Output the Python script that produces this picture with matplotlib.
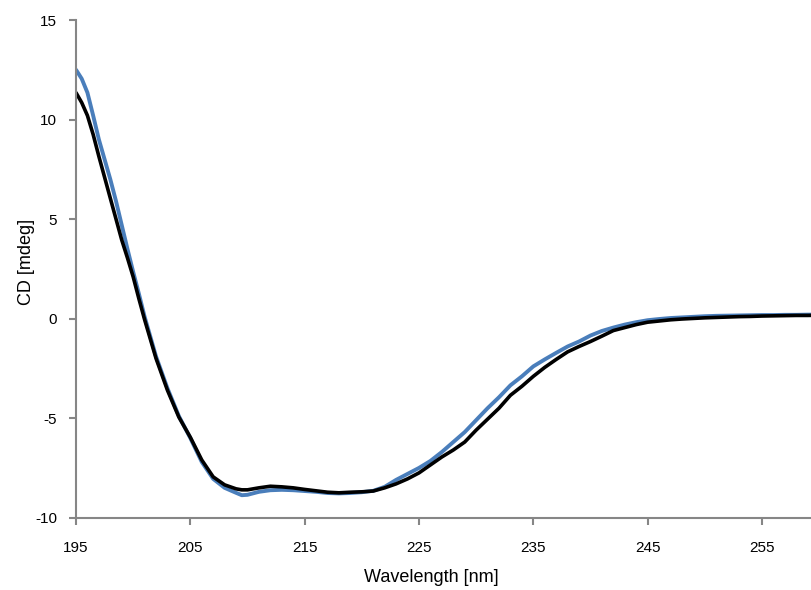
import matplotlib
matplotlib.use("Agg")
import matplotlib.pyplot as plt

# wavelength grid (nm)
wavelength = [195, 195.5, 196, 196.5, 197, 197.5, 198, 198.5, 199, 199.5,
              200, 200.5, 201, 202, 203, 204,
              205, 206, 207, 208, 209, 209.5, 210, 211, 212, 213, 214,
              215, 216, 217, 218, 219, 220, 221, 222, 223, 224,
              225, 226, 227, 228, 229, 230, 231, 232, 233, 234,
              235, 236, 237, 238, 239, 240, 241, 242, 243, 244,
              245, 246, 247, 248, 249, 250, 251, 252, 253, 254,
              255, 256, 257, 258, 259, 260]

# blue trace (mdeg)
cd_blue = [12.5, 12.05, 11.35, 10.2, 9.0, 8.0, 7.0, 5.9, 4.7, 3.5,
           2.35, 1.25, 0.1, -1.9, -3.5, -4.9,
           -6.0, -7.2, -8.05, -8.5, -8.75, -8.87, -8.85, -8.7, -8.62, -8.6, -8.62,
           -8.66, -8.7, -8.76, -8.78, -8.76, -8.72, -8.65, -8.45, -8.1, -7.8,
           -7.5, -7.15, -6.7, -6.2, -5.7, -5.1, -4.5, -3.95, -3.35, -2.9,
           -2.4, -2.05, -1.72, -1.4, -1.15, -0.85, -0.62, -0.45, -0.3, -0.18,
           -0.08, -0.02, 0.03, 0.06, 0.09, 0.12, 0.14, 0.15, 0.16, 0.17,
           0.18, 0.18, 0.19, 0.19, 0.2, 0.2]

# black trace (mdeg)
cd_black = [11.35, 10.85, 10.2, 9.25, 8.15, 7.1, 6.05, 5.0, 3.95, 3.05,
            2.1, 1.0, -0.05, -2.0, -3.6, -4.95,
            -5.96, -7.1, -7.95, -8.35, -8.55, -8.6, -8.6, -8.5, -8.42, -8.45, -8.5,
            -8.58, -8.65, -8.72, -8.75, -8.72, -8.7, -8.66, -8.5, -8.3, -8.05,
            -7.75, -7.35, -6.95, -6.6, -6.2, -5.6, -5.05, -4.5, -3.85, -3.4,
            -2.9, -2.45, -2.05, -1.67, -1.4, -1.15, -0.88, -0.6, -0.45, -0.3,
            -0.18, -0.12, -0.06, -0.02, 0.01, 0.04, 0.06, 0.08, 0.1, 0.11,
            0.13, 0.14, 0.15, 0.16, 0.16, 0.17]

xticks = [195, 205, 215, 225, 235, 245, 255]
yticks = [-10, -5, 0, 5, 10, 15]

plt.rcParams['font.family'] = ['Liberation Sans', 'DejaVu Sans']
plt.rcParams['axes.unicode_minus'] = False

fig = plt.figure(figsize=(8.11, 5.90), dpi=100)
ax = fig.add_axes([76 / 811, 72.3 / 590, 735 / 811, 497.7 / 590])

ax.plot(wavelength, cd_blue, color='#4a7ebb', lw=2.8, solid_capstyle='round', solid_joinstyle='round')
ax.plot(wavelength, cd_black, color='black', lw=2.6, solid_capstyle='round', solid_joinstyle='round')

ax.set_xlim(195, 259.29)
ax.set_ylim(-10, 15)
ax.set_xticks(xticks)
ax.set_yticks(yticks)

for s in ['top', 'right']:
    ax.spines[s].set_visible(False)
for s in ['left', 'bottom']:
    ax.spines[s].set_color('#868686')
    ax.spines[s].set_linewidth(1.5)

ax.tick_params(axis='both', direction='out', length=5, width=1.5, color='#868686',
               labelsize=11, labelcolor='black')
ax.tick_params(axis='x', pad=12)
ax.tick_params(axis='y', pad=8.5)

ax.set_xlabel("Wavelength [nm]", fontsize=13)
ax.set_ylabel("CD [mdeg]", fontsize=13)
ax.xaxis.set_label_coords(0.484, -0.121)
ax.xaxis.label.set_va('center')
ax.yaxis.set_label_coords(-0.068, 0.514)
ax.yaxis.label.set_va('center')

fig.savefig("out.png", dpi=100)
